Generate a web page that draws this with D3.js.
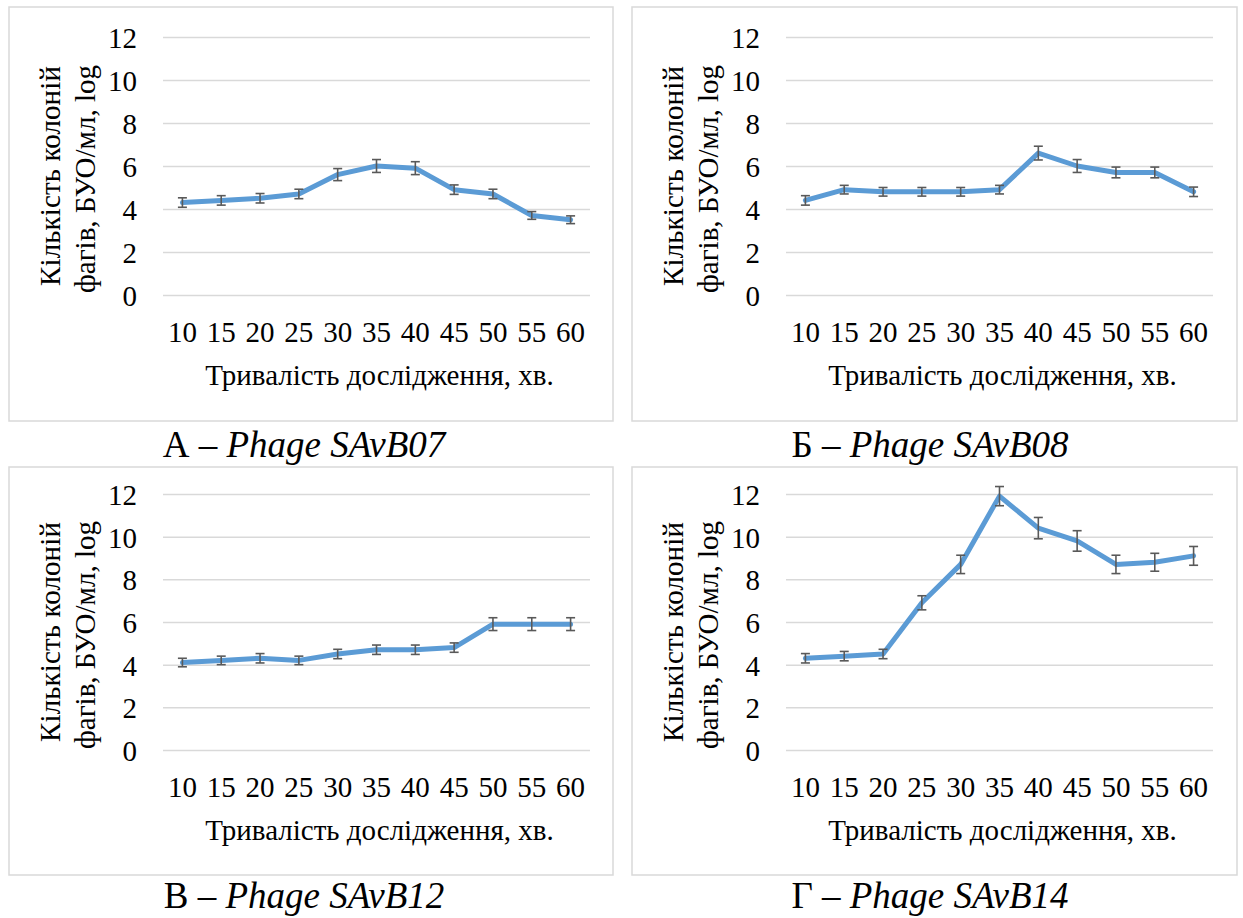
<!DOCTYPE html>
<html lang="uk">
  <head>
    <meta charset="UTF-8">
    <title>Фаги SAvB</title>
    <style>
      body { margin: 0; background: #fff; }
    </style>
  </head>
  <body>
    <svg id="grafik" width="1243" height="918"></svg>

    <script src="https://d3js.org/d3.v7.min.js"></script>

    <script>
      // тривалість дослідження, хв (категорії осі x)
      var tryvalist = ["10", "15", "20", "25", "30", "35", "40", "45", "50", "55", "60"];
      var yTicks = [0, 2, 4, 6, 8, 10, 12];

      // кількість колоній фагів, log БУО/мл, та похибки
      var fagA = [4.3, 4.4, 4.5, 4.7, 5.6, 6.0, 5.9, 4.9, 4.7, 3.7, 3.5];
      var pohA = [0.22, 0.22, 0.22, 0.22, 0.28, 0.3, 0.3, 0.22, 0.22, 0.18, 0.18];
      var fagB = [4.4, 4.9, 4.8, 4.8, 4.8, 4.9, 6.6, 6.0, 5.7, 5.7, 4.8];
      var pohB = [0.22, 0.2, 0.2, 0.2, 0.2, 0.2, 0.32, 0.3, 0.25, 0.25, 0.22];
      var fagV = [4.1, 4.2, 4.3, 4.2, 4.5, 4.7, 4.7, 4.8, 5.9, 5.9, 5.9];
      var pohV = [0.2, 0.2, 0.22, 0.2, 0.22, 0.22, 0.22, 0.22, 0.3, 0.3, 0.3];
      var fagG = [4.3, 4.4, 4.5, 6.9, 8.7, 11.9, 10.4, 9.8, 8.7, 8.8, 9.1];
      var pohG = [0.22, 0.22, 0.22, 0.33, 0.43, 0.45, 0.5, 0.48, 0.43, 0.42, 0.44];

      var literi = ["А", "Б", "В", "Г"];
      var nazvy = ["Phage SAvB07", "Phage SAvB08", "Phage SAvB12", "Phage SAvB14"];

      var SHRYFT = "Liberation Serif";

      // розташування панелей
      var kolonky = [
        {boxX: 9, boxW: 604, left: 163, right: 590, capX: 304},
        {boxX: 632, boxW: 605, left: 786, right: 1213, capX: 930}
      ];
      var riadky = [
        {boxY: 7, boxH: 414, top: 37, bottom: 295, capY: 457},
        {boxY: 467, boxH: 408, top: 494, bottom: 750, capY: 908}
      ];

      var paneli = [
        {v: fagA, e: pohA, k: 0, r: 0},
        {v: fagB, e: pohB, k: 1, r: 0},
        {v: fagV, e: pohV, k: 0, r: 1},
        {v: fagG, e: pohG, k: 1, r: 1}
      ];

      var svg = d3.select("#grafik");

      // шрифт і розмір для тексту
      function napys(sel, rozmir) {
        return sel.attr("font-family", SHRYFT).attr("font-size", rozmir).attr("fill", "#000");
      }

      paneli.forEach(function (p, i) {
        var kol = kolonky[p.k], ria = riadky[p.r];

        // рамка панелі
        svg.append("rect")
          .attr("x", kol.boxX).attr("y", ria.boxY)
          .attr("width", kol.boxW).attr("height", ria.boxH)
          .attr("fill", "none").attr("stroke", "#d9d9d9").attr("stroke-width", 1.5);

        var x = d3.scaleBand().domain(tryvalist).range([kol.left, kol.right]);
        var y = d3.scaleLinear().domain([0, 12]).range([ria.bottom, ria.top]);
        var w = kol.right - kol.left;

        // сітка та підписи осі y
        var gy = svg.append("g")
          .attr("transform", "translate(" + kol.left + ",0)")
          .call(d3.axisLeft(y).tickValues(yTicks).tickSize(-w).tickPadding(26));
        napys(gy, 29);
        gy.select(".domain").remove();
        gy.selectAll("line").attr("stroke", "#d9d9d9").attr("stroke-width", 1.5);
        gy.selectAll("text").attr("dy", "0.36em");

        // підписи осі x
        var gx = svg.append("g")
          .attr("transform", "translate(0," + ria.bottom + ")")
          .call(d3.axisBottom(x).tickSize(0).tickPadding(26.5));
        napys(gx, 29);
        gx.select(".domain").remove();

        // назва осі x
        napys(svg.append("text"), 29)
          .attr("x", (kol.left + kol.right) / 2 + 3)
          .attr("y", ria.bottom + 90)
          .attr("text-anchor", "middle")
          .text("Тривалість дослідження, хв.");

        // назва осі y, два рядки
        var cy = (ria.top + ria.bottom) / 2 + 13;
        var r2 = napys(svg.append("text"), 29)
          .attr("transform", "translate(" + (kol.left - 68) + "," + cy + ") rotate(-90)")
          .attr("text-anchor", "middle")
          .text("фагів, БУО/мл, log");
        var dov = r2.node().getComputedTextLength();
        napys(svg.append("text"), 29)
          .attr("transform", "translate(" + (kol.left - 103) + "," + (cy - 3) + ") rotate(-90)")
          .attr("text-anchor", "middle")
          .attr("textLength", dov - 8)
          .attr("lengthAdjust", "spacing")
          .text("Кількість колоній");

        var cx = function (d, j) { return x(tryvalist[j]) + x.bandwidth() / 2; };

        // лінія
        var liniya = d3.line()
          .x(function (d, j) { return cx(d, j); })
          .y(function (d) { return y(d); });
        svg.append("path")
          .datum(p.v)
          .attr("d", liniya)
          .attr("fill", "none")
          .attr("stroke", "#5b9bd5")
          .attr("stroke-width", 5)
          .attr("stroke-linejoin", "round")
          .attr("stroke-linecap", "round");

        // похибки
        var gErr = svg.append("g").attr("stroke", "#595959").attr("stroke-width", 1.6);
        p.v.forEach(function (d, j) {
          var xx = cx(d, j), y1 = y(d + p.e[j]), y0 = y(d - p.e[j]);
          gErr.append("line").attr("x1", xx).attr("x2", xx).attr("y1", y1).attr("y2", y0);
          gErr.append("line").attr("x1", xx - 4.5).attr("x2", xx + 4.5).attr("y1", y1).attr("y2", y1);
          gErr.append("line").attr("x1", xx - 4.5).attr("x2", xx + 4.5).attr("y1", y0).attr("y2", y0);
        });

        // підпис панелі
        var cap = napys(svg.append("text"), 37)
          .attr("x", kol.capX)
          .attr("y", ria.capY)
          .attr("text-anchor", "middle");
        cap.append("tspan").text(literi[i] + " – ");
        cap.append("tspan").attr("font-style", "italic").text(nazvy[i]);
      });
    </script>
  </body>
</html>
